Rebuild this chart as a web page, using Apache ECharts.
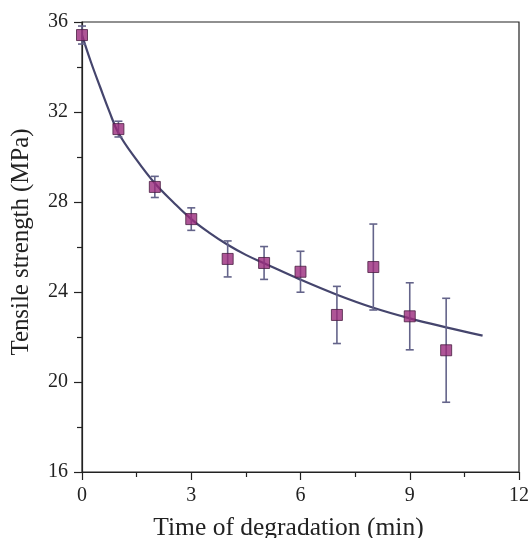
<!DOCTYPE html>
<html>
<head>
<meta charset="utf-8">
<script src="https://cdn.jsdelivr.net/npm/echarts@6/dist/echarts.min.js"></script>
<style>
html,body{margin:0;padding:0;background:#fff;}
#c{width:529px;height:538px;}
</style>
</head>
<body>
<div id="c"></div>
<script>
// Measured data (time in min, tensile strength in MPa, error = ±)
const times = [0, 1, 2, 3, 4, 5, 6, 7, 8, 9, 10];
const strength = [35.42, 31.24, 28.67, 27.24, 25.47, 25.29, 24.9, 22.98, 25.11, 22.92, 21.41];
const errors = [0.4, 0.35, 0.47, 0.5, 0.8, 0.73, 0.91, 1.27, 1.91, 1.49, 2.31];

// Fitted curve
const fitX = [0, 0.25, 0.5, 0.75, 1, 1.5, 2, 2.5, 3, 3.5, 4, 4.5, 5, 6, 7, 8, 9, 10, 11];
const fitY = [35.42, 34.2, 33.1, 32.03, 31.07, 29.87, 28.83, 28.0, 27.24, 26.63, 26.1, 25.65, 25.28, 24.55, 23.88, 23.3, 22.83, 22.43, 22.06];

const xTicks = [0, 3, 6, 9, 12];
const yTicks = [16, 20, 24, 28, 32, 36];

const font = '"Liberation Serif", "Times New Roman", serif';

const points = times.map((t, i) => [t, strength[i]]);
const errData = times.map((t, i) => [t, strength[i] - errors[i], strength[i] + errors[i]]);
const fitData = fitX.map((x, i) => [x, fitY[i]]);

const chart = echarts.init(document.getElementById('c'));
chart.setOption({
  animation: false,
  backgroundColor: '#fff',
  grid: {left: 82, right: 10, top: 22, bottom: 66, containLabel: false, outerBoundsMode: 'none',
         show: true, borderColor: '#222', borderWidth: 1.2, backgroundColor: 'transparent'},
  xAxis: {
    type: 'value', min: xTicks[0], max: xTicks[xTicks.length - 1], interval: 3,
    name: 'Time of degradation (min)', nameLocation: 'middle', nameGap: 43,
    nameTextStyle: {fontFamily: font, fontSize: 25.5, color: '#222', padding: [0, 24, 0, 0]},
    axisLine: {show: true, lineStyle: {color: '#222', width: 1.2}},
    axisTick: {show: true, inside: false, length: 8, lineStyle: {color: '#222', width: 1.2}},
    minorTick: {show: true, splitNumber: 2, length: 5, lineStyle: {color: '#222', width: 1.2}},
    axisLabel: {fontFamily: font, fontSize: 20, color: '#222', margin: 14},
    splitLine: {show: false}
  },
  yAxis: {
    type: 'value', min: yTicks[0], max: yTicks[yTicks.length - 1], interval: 4,
    name: 'Tensile strength (MPa)', nameLocation: 'middle', nameGap: 48,
    nameTextStyle: {fontFamily: font, fontSize: 24.8, color: '#222', padding: [0, 0, 0, 10]},
    axisLine: {show: true, lineStyle: {color: '#222', width: 1.2}},
    axisTick: {show: true, inside: false, length: 8, lineStyle: {color: '#222', width: 1.2}},
    minorTick: {show: true, splitNumber: 2, length: 5, lineStyle: {color: '#222', width: 1.2}},
    axisLabel: {fontFamily: font, fontSize: 20, color: '#222', margin: 14},
    splitLine: {show: false}
  },
  series: [
    {
      type: 'line', data: fitData, smooth: 0.4, showSymbol: false, symbol: 'none',
      lineStyle: {color: '#45456d', width: 2.2}, z: 2
    },
    {
      type: 'custom', data: errData, z: 3,
      renderItem: function (params, api) {
        const x = api.value(0);
        const lo = api.coord([x, api.value(1)]);
        const hi = api.coord([x, api.value(2)]);
        const cw = 4;
        const st = {stroke: '#64648a', lineWidth: 1.6, fill: null};
        return {
          type: 'group',
          children: [
            {type: 'line', shape: {x1: lo[0], y1: lo[1], x2: hi[0], y2: hi[1]}, style: st},
            {type: 'line', shape: {x1: lo[0] - cw, y1: lo[1], x2: lo[0] + cw, y2: lo[1]}, style: st},
            {type: 'line', shape: {x1: hi[0] - cw, y1: hi[1], x2: hi[0] + cw, y2: hi[1]}, style: st}
          ]
        };
      }
    },
    {
      type: 'scatter', data: points, symbol: 'rect', symbolSize: 11, z: 4,
      itemStyle: {color: '#9a2b7c', borderColor: '#4a1e42', borderWidth: 1}
    }
  ]
});
</script>
</body>
</html>
